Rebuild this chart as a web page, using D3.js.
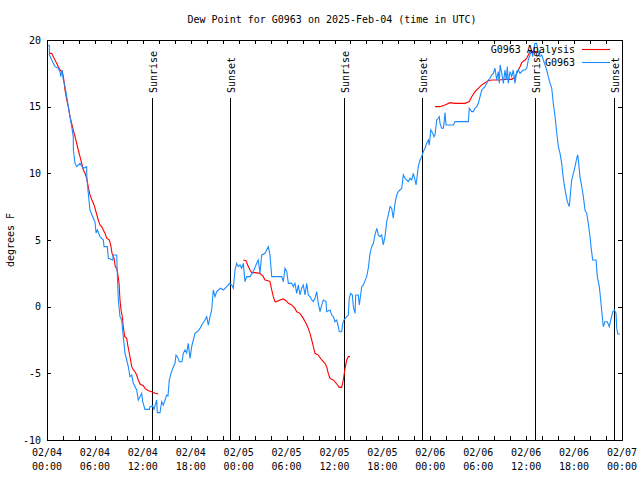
<!DOCTYPE html>
<html><head><meta charset="utf-8">
<script src="https://cdn.jsdelivr.net/npm/d3@7"></script>
<style>
body{margin:0;background:#fff;}
svg{display:block;}
text{font-family:"DejaVu Sans Mono","Liberation Mono",monospace;font-size:10px;fill:#000;}
</style></head>
<body><svg id="c" width="640" height="480"></svg>
<script>
const title = "Dew Point for G0963 on 2025-Feb-04 (time in UTC)";
const yLabel = "degrees F";
const yTicks = [-10,-5,0,5,10,15,20];
const startUTC = Date.UTC(2025,1,4,0,0);
const endUTC = Date.UTC(2025,1,7,0,0);
const seriesNames = ["G0963 Analysis","G0963"];
const seriesColors = ["#ff0000","#1a8cff"];
// sun events: [hours since 2025-02-04 00:00 UTC, label]
const sunEvents = [[13.19,"Sunrise"],[22.96,"Sunset"],[37.21,"Sunrise"],[46.99,"Sunset"],[61.15,"Sunrise"],[71.02,"Sunset"]];

// observations [hours, degF]
const observed = [[0.16,19.6],[0.29,19.6],[0.30,18.9],[0.59,18.5],[0.79,18.25],[1.00,18.0],[1.41,17.88],[1.63,17.62],[1.72,17.25],[1.88,17.75],[2.04,17.0],[2.25,16.5],[2.47,15.75],[2.67,15.0],[2.88,14.25],[3.09,13.5],[3.29,12.75],[3.30,11.75],[3.51,10.75],[3.72,10.5],[4.13,10.75],[4.55,10.38],[4.97,10.5],[4.98,9.75],[5.13,8.75],[5.38,7.25],[5.63,6.88],[6.01,6.35],[6.14,5.52],[6.30,5.75],[6.64,5.25],[7.05,5.0],[7.14,4.5],[7.55,4.5],[7.68,3.63],[8.23,3.5],[8.30,3.88],[8.73,3.88],[8.80,2.5],[8.93,0.5],[9.14,-0.75],[9.35,-1.0],[9.55,-2.25],[9.77,-3.5],[9.98,-4.0],[10.18,-4.5],[10.39,-5.25],[10.61,-5.13],[10.81,-5.75],[11.23,-6.25],[11.43,-7.0],[11.65,-6.75],[11.86,-6.5],[11.98,-7.13],[12.27,-7.7],[12.81,-7.7],[12.90,-7.5],[13.24,-7.45],[13.40,-7.7],[13.74,-7.0],[13.81,-7.95],[14.15,-7.95],[14.36,-7.13],[14.56,-7.38],[14.78,-7.0],[14.99,-6.63],[15.15,-6.7],[15.31,-5.5],[15.53,-5.0],[15.74,-4.63],[16.03,-4.25],[16.15,-3.63],[16.32,-3.75],[16.57,-4.13],[16.90,-4.13],[17.07,-3.5],[17.28,-3.25],[17.49,-3.48],[17.69,-2.75],[17.91,-3.88],[18.12,-3.0],[18.32,-2.5],[18.53,-2.0],[18.82,-1.88],[19.16,-1.63],[19.37,-1.38],[19.78,-1.0],[20.00,-0.75],[20.20,-1.38],[20.41,-0.75],[20.62,-0.25],[20.82,1.25],[21.04,0.75],[21.25,1.13],[21.45,1.25],[21.75,1.38],[22.08,1.25],[22.50,1.5],[22.70,1.63],[22.83,1.75],[23.13,1.63],[23.33,1.38],[23.54,2.75],[23.75,3.25],[23.95,3.0],[24.17,3.13],[24.38,2.88],[24.58,3.25],[24.79,1.88],[25.01,2.25],[25.42,2.25],[25.83,2.63],[26.26,3.25],[26.46,3.5],[26.67,2.5],[26.88,3.88],[27.30,4.0],[27.71,4.5],[27.92,3.88],[28.14,2.25],[29.39,2.25],[29.59,1.88],[29.80,2.88],[30.02,2.63],[30.22,1.75],[30.64,1.75],[30.84,1.5],[31.05,1.75],[31.27,1.0],[31.47,1.63],[31.68,0.88],[31.89,1.38],[32.09,1.63],[32.31,0.88],[32.52,1.75],[32.72,0.88],[32.93,0.75],[33.15,0.5],[33.35,0.38],[33.56,0.63],[33.77,1.13],[33.97,0.25],[34.19,-0.38],[34.40,0.13],[34.60,0.5],[34.94,0.38],[35.02,-0.38],[35.44,-0.25],[35.65,-0.63],[35.85,-0.75],[36.06,-1.13],[36.28,-1.0],[36.48,-1.5],[36.60,-1.88],[36.90,-1.88],[37.03,-1.25],[37.19,-1.0],[37.53,-0.75],[37.73,-0.63],[37.85,0.63],[38.03,1.0],[38.23,0.88],[38.36,0.0],[38.57,-0.5],[38.66,0.88],[38.98,0.88],[39.11,0.13],[39.41,1.5],[39.61,1.63],[40.03,2.25],[40.23,2.88],[40.45,4.0],[40.66,4.5],[40.86,4.75],[41.07,5.38],[41.29,5.88],[41.49,5.38],[41.70,5.25],[41.91,5.38],[42.11,4.63],[42.32,5.25],[42.54,6.38],[42.74,6.88],[42.95,7.5],[43.16,7.38],[43.36,6.63],[43.58,7.75],[43.79,8.38],[43.99,8.63],[44.20,8.75],[44.42,8.88],[44.62,9.88],[44.83,9.63],[45.04,9.5],[45.24,9.38],[45.46,9.63],[45.67,9.5],[45.87,10.0],[46.08,9.5],[46.21,9.13],[46.37,9.88],[46.49,10.5],[46.71,11.0],[46.92,11.25],[47.12,11.63],[47.33,11.88],[47.55,12.25],[47.75,12.5],[47.87,12.13],[48.05,13.25],[48.30,13.0],[48.46,12.75],[48.59,12.88],[48.80,14.0],[49.00,14.13],[49.12,14.25],[49.21,13.75],[49.42,13.38],[49.63,13.38],[49.71,13.75],[49.84,14.55],[49.96,13.63],[50.88,13.63],[51.09,13.88],[52.76,13.88],[52.88,14.88],[53.18,14.63],[53.38,14.63],[53.59,14.88],[53.81,15.0],[54.01,15.25],[54.22,15.73],[54.43,16.25],[54.63,16.38],[54.85,16.5],[55.06,16.75],[55.26,17.0],[55.47,17.13],[55.69,17.38],[55.89,17.5],[56.10,17.88],[56.31,17.0],[56.51,17.63],[56.64,16.75],[56.73,18.13],[56.94,17.53],[57.14,16.75],[57.35,17.75],[57.51,17.0],[57.64,18.0],[57.76,16.75],[57.98,17.63],[58.19,17.25],[58.39,17.75],[58.60,16.75],[58.82,17.63],[59.02,17.75],[59.23,17.5],[59.44,17.63],[59.64,17.75],[59.86,17.75],[60.07,17.88],[60.27,18.5],[60.48,18.88],[60.69,19.25],[60.82,18.75],[60.98,19.38],[61.11,19.75],[61.32,19.75],[61.52,19.0],[61.73,18.75],[61.95,18.88],[62.15,18.5],[62.36,18.13],[62.57,17.75],[62.77,17.25],[62.99,16.75],[63.20,16.4],[63.40,15.25],[63.61,14.3],[63.83,13.03],[64.03,12.0],[64.24,11.5],[64.45,10.75],[64.58,10.0],[64.74,9.25],[64.95,8.5],[65.15,7.88],[65.40,7.5],[65.58,8.75],[65.70,9.5],[65.91,10.0],[66.12,10.5],[66.33,11.13],[66.46,11.38],[66.58,10.75],[66.74,9.75],[66.96,9.0],[67.16,8.25],[67.37,7.25],[67.58,7.0],[67.78,6.25],[68.00,5.25],[68.12,4.5],[68.33,3.5],[68.75,3.5],[68.91,2.25],[69.16,1.5],[69.33,0.5],[69.53,-0.75],[69.66,-1.5],[69.87,-1.13],[70.16,-1.13],[70.41,-1.5],[70.59,-1.0],[70.84,-0.38],[71.04,-0.25],[71.25,-0.48],[71.34,-1.63],[71.47,-2.05],[71.75,-2.05]];

// analysis [hours, degF]; null value marks a gap
const analysis = [[0.38,19.0],[0.59,19.0],[0.79,18.75],[1.00,18.5],[1.21,18.25],[1.41,18.0],[1.63,17.75],[1.92,17.63],[2.04,17.25],[2.17,16.75],[2.25,16.25],[2.47,15.5],[2.67,15.0],[2.88,14.25],[3.09,13.75],[3.29,13.25],[3.51,12.75],[3.72,12.25],[3.92,11.75],[4.13,11.25],[4.35,10.75],[4.55,10.25],[4.76,10.0],[4.97,9.63],[5.20,8.9],[5.38,8.38],[5.63,8.0],[5.89,7.63],[6.14,7.1],[6.42,6.5],[6.64,6.13],[6.85,6.0],[7.05,5.75],[7.26,5.5],[7.48,5.13],[7.80,5.0],[7.98,4.63],[8.14,4.0],[8.39,3.63],[8.55,3.0],[8.73,2.88],[8.85,2.5],[9.02,1.75],[9.14,0.5],[9.27,-0.25],[9.43,-0.75],[9.55,-1.5],[9.73,-2.25],[9.98,-2.38],[10.11,-2.88],[10.27,-3.38],[10.39,-3.75],[10.61,-4.5],[10.81,-4.75],[11.02,-4.88],[11.23,-5.13],[11.43,-5.5],[11.65,-5.8],[12.06,-5.93],[12.27,-6.13],[12.69,-6.3],[13.11,-6.38],[13.52,-6.5],[13.94,-6.55],
[19.0,null],
[24.58,3.5],[24.92,3.45],[25.13,3.13],[25.42,2.75],[25.63,2.55],[26.05,2.55],[26.67,2.5],[27.09,2.25],[27.30,2.0],[27.71,1.95],[27.92,1.88],[28.14,1.25],[28.34,0.75],[28.55,0.38],[28.76,0.38],[29.18,0.5],[29.59,0.58],[29.93,0.45],[30.22,0.25],[30.64,0.13],[31.05,-0.13],[31.27,-0.38],[31.68,-0.5],[32.09,-0.88],[32.43,-1.25],[32.72,-1.63],[32.93,-2.0],[33.15,-2.5],[33.35,-3.0],[33.56,-3.5],[33.97,-3.63],[34.40,-4.0],[34.81,-4.25],[35.02,-4.5],[35.22,-5.0],[35.44,-5.38],[35.85,-5.5],[36.28,-5.8],[36.60,-6.05],[36.90,-6.05],[37.10,-5.5],[37.32,-4.63],[37.53,-4.0],[37.73,-3.75],[37.94,-3.75],
[43.0,null],
[48.59,15.0],[49.21,15.0],[49.84,15.13],[50.46,15.3],[51.09,15.25],[52.34,15.25],[52.88,15.38],[53.18,15.75],[53.59,16.13],[54.01,16.38],[54.43,16.63],[54.85,16.8],[55.26,16.95],[55.69,17.0],[56.73,17.0],[57.14,17.05],[58.19,17.05],[58.60,17.2],[58.82,17.5],[59.23,18.0],[59.44,18.3],[59.86,18.5],[60.07,18.63],[60.27,18.88],[60.48,19.13],[61.11,19.13],[61.49,19.13]];

const svg = d3.select("#c");
const L=47,R=622,T=40,B=440;
const toDate = h => new Date(startUTC + h*3600e3);
const x = d3.scaleUtc().domain([new Date(startUTC), new Date(endUTC)]).range([L,R]);
const y = d3.scaleLinear().domain([-10,20]).range([B,T]);

svg.append("text").attr("x",332).attr("y",23).attr("text-anchor","middle").text(title);
svg.append("text").attr("transform","translate(14,240) rotate(-90)").attr("text-anchor","middle").text(yLabel);

const every2 = d3.utcHour.every(2).range(new Date(startUTC), new Date(endUTC+1));
const every6 = every2.filter(d => d.getUTCHours()%6===0);
const fmtD = d3.utcFormat("%m/%d"), fmtT = d3.utcFormat("%H:%M");

function cleanAxis(g){
  g.select(".domain").remove();
  g.selectAll(".tick line").attr("stroke","#000").attr("shape-rendering","crispEdges");
  g.selectAll(".tick text").remove();
  g.attr("font-family",null).attr("font-size",null);
}

svg.append("g").attr("transform",`translate(0,${B})`)
  .call(d3.axisBottom(x).tickValues(every2).tickSizeInner(-4).tickSizeOuter(0)).call(cleanAxis);
svg.append("g").attr("transform",`translate(0,${T})`)
  .call(d3.axisTop(x).tickValues(every2).tickSizeInner(-4).tickSizeOuter(0)).call(cleanAxis);
svg.append("g").attr("transform",`translate(${L},0)`)
  .call(d3.axisLeft(y).tickValues(yTicks).tickSizeInner(-4).tickSizeOuter(0)).call(cleanAxis);
svg.append("g").attr("transform",`translate(${R},0)`)
  .call(d3.axisRight(y).tickValues(yTicks).tickSizeInner(-4).tickSizeOuter(0)).call(cleanAxis);

// x tick labels (two lines)
const xl = svg.append("g").selectAll("g").data(every6).join("g")
  .attr("transform", d => `translate(${x(d)},0)`);
xl.append("text").attr("y",456).attr("text-anchor","middle").text(d => fmtD(d));
xl.append("text").attr("y",470).attr("text-anchor","middle").text(d => fmtT(d));

// y tick labels
svg.append("g").selectAll("text").data(yTicks).join("text")
  .attr("x",41).attr("y", d => y(d)).attr("dy","0.35em").attr("text-anchor","end").text(d => d);

// sun lines
sunEvents.forEach(([h,lab])=>{
  const xx = Math.round(x(toDate(h)))+0.5;
  svg.append("line").attr("x1",xx).attr("x2",xx).attr("y1",98).attr("y2",B)
    .attr("stroke","#000").attr("stroke-width",1).attr("shape-rendering","crispEdges");
  svg.append("text").attr("transform",`translate(${xx+4},93) rotate(-90)`).text(lab);
});

const line = d3.line().defined(d=>d[1]!==null).x(d=>x(toDate(d[0]))).y(d=>y(d[1]));
svg.append("path").datum(analysis).attr("d",line).attr("fill","none")
  .attr("stroke",seriesColors[0]).attr("stroke-width",1.1);
svg.append("path").datum(observed).attr("d",line).attr("fill","none")
  .attr("stroke",seriesColors[1]).attr("stroke-width",1.1);

// frame
svg.append("rect").attr("x",L+0.5).attr("y",T+0.5).attr("width",R-L).attr("height",B-T)
  .attr("fill","none").attr("stroke","#000").attr("shape-rendering","crispEdges");

// legend
seriesNames.forEach((n,i)=>{
  const yy = 49 + i*13;
  svg.append("text").attr("x",575).attr("y",yy).attr("dy","0.35em").attr("text-anchor","end").text(n);
  svg.append("line").attr("x1",582).attr("x2",610).attr("y1",yy+0.5).attr("y2",yy+0.5)
    .attr("stroke",seriesColors[i]).attr("stroke-width",1.1);
});
</script></body></html>
